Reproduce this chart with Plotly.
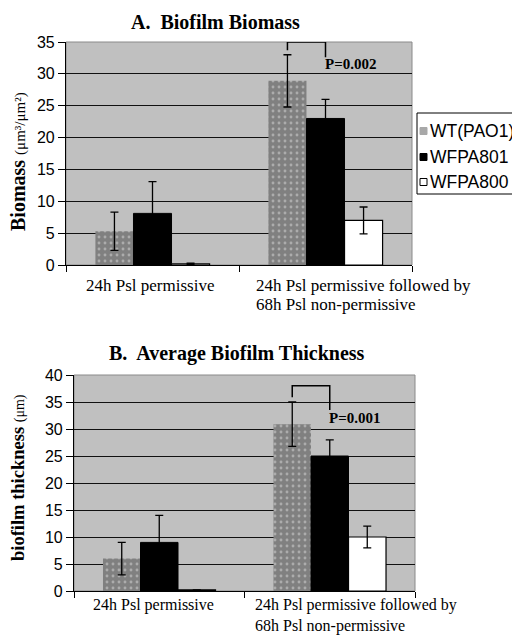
import plotly.graph_objects as go

# page body has an 8px margin: build the figure 8px smaller and map reference pixels
OFF = 8
W, H = 520 - OFF, 636 - OFF

categories = ["24h Psl permissive", "24h Psl permissive followed by<br>68h Psl non-permissive"]
series_names = ["WT(PAO1)", "WFPA801", "WFPA800"]

# Panel A: Biofilm biomass
biomass_wt = [5.3, 28.9]
biomass_wt_err = [3.0, 4.1]
biomass_801 = [8.1, 23.0]
biomass_801_err = [5.0, 3.0]
biomass_800 = [0.2, 7.0]
biomass_800_err = [0.1, 2.1]

# Panel B: Average thickness
thick_wt = [6.0, 30.9]
thick_wt_err = [3.0, 4.1]
thick_801 = [9.0, 25.0]
thick_801_err = [5.0, 3.0]
thick_800 = [0.2, 10.0]
thick_800_err = [0.0, 2.0]

# significance brackets: [top, left leg bottom, right leg bottom, label y]
bracket_a = [35.0, 33.7, 32.6, 31.6]
bracket_b = [38.0, 35.9, 33.5, 32.0]
p_a = "P=0.002"
p_b = "P=0.001"

BARGAP = 0.34
bar_w = (1 - BARGAP) / 3

def px(x):
    return (x - OFF) / W

def py(y):
    return 1 - (y - OFF) / H

fig = go.Figure()

wt_style = dict(color="#808080", line=dict(width=0),
                pattern=dict(shape=".", fillmode="overlay", fgcolor="#d8d8d8",
                             size=6, solidity=0.18))
s801 = dict(color="#000000", line=dict(color="#000000", width=1))
s800 = dict(color="#ffffff", line=dict(color="#000000", width=1.2))

def add_panel(xa, ya, vals, errs):
    for name, v, e, st in zip(series_names, vals, errs, [wt_style, s801, s800]):
        fig.add_trace(go.Bar(
            x=categories, y=v, name=name, marker=st, xaxis=xa, yaxis=ya,
            showlegend=False,
            error_y=dict(type="data", array=e, visible=True, color="#000000",
                         thickness=1.3, width=4),
        ))

add_panel("x", "y", [biomass_wt, biomass_801, biomass_800],
          [biomass_wt_err, biomass_801_err, biomass_800_err])
add_panel("x2", "y2", [thick_wt, thick_801, thick_800],
          [thick_wt_err, thick_801_err, thick_800_err])

tickfont = dict(family="Liberation Sans, Arial", size=16, color="#000")
catfont_a = dict(family="Liberation Serif, Times New Roman", size=17, color="#000")
catfont_b = dict(family="Liberation Serif, Times New Roman", size=16, color="#000")

xcommon = dict(type="category", showline=True, linecolor="#000", linewidth=1.2,
               ticks="outside", tickson="boundaries", ticklen=6, tickcolor="#000",
               showticklabels=False, showgrid=False, fixedrange=True,
               automargin=False, range=[-0.5, 1.5], autorange=False)
ycommon = dict(showline=True, linecolor="#000", linewidth=1.2, ticks="outside",
               ticklen=7, tickcolor="#000", tickfont=tickfont, dtick=5,
               showgrid=True, gridcolor="#111", gridwidth=1.2, zeroline=False,
               automargin=False)

fig.update_layout(
    width=W, height=H,
    margin=dict(l=0, r=0, t=0, b=0, autoexpand=False),
    paper_bgcolor="white",
    plot_bgcolor="#c0c0c0",
    barmode="group", bargap=BARGAP, bargroupgap=0,
    showlegend=False,
    xaxis=dict(domain=[px(66), px(412)], anchor="y", **xcommon),
    yaxis=dict(domain=[py(265), py(42)], anchor="x", range=[0, 35], **ycommon),
    xaxis2=dict(domain=[px(74), px(415)], anchor="y2", **xcommon),
    yaxis2=dict(domain=[py(591), py(375)], anchor="x2", range=[0, 40], **ycommon),
)

# plot area borders
for xr, yr in [("x", "y"), ("x2", "y2")]:
    fig.add_shape(type="rect", xref=f"{xr} domain", yref=f"{yr} domain",
                  x0=0, x1=1, y0=0, y1=1, line=dict(color="#8a8a8a", width=1),
                  layer="below")

# category labels (second label left-aligned, as in the reference)
def cat_labels(xr, y_lines, shift0, shift1, font):
    fig.add_annotation(x=0, y=py(y_lines[0]), xref=xr, yref="paper",
                       text=categories[0], showarrow=False, xanchor="center",
                       yanchor="middle", xshift=shift0, font=font)
    for line, yy in zip(categories[1].split("<br>"), y_lines):
        fig.add_annotation(x=1, y=py(yy), xref=xr, yref="paper",
                           text=line, showarrow=False, xanchor="left",
                           yanchor="middle", xshift=shift1, font=font)

cat_labels("x", [285, 305], -3, -72, catfont_a)
cat_labels("x2", [605, 626], -6, -77, catfont_b)

# significance brackets
def bracket(xr, yr, br, label):
    xl = 1 - bar_w
    xrgt = 1
    fig.add_shape(type="path", xref=xr, yref=yr,
                  path=f"M {xl},{br[1]} L {xl},{br[0]} L {xrgt},{br[0]} L {xrgt},{br[2]}",
                  line=dict(color="#000", width=1.5))
    fig.add_annotation(x=xrgt, y=br[3], xref=xr, yref=yr, text=f"<b>{label}</b>",
                       showarrow=False, xanchor="left", yanchor="middle", xshift=-3,
                       font=dict(family="Liberation Serif, Times New Roman", size=15, color="#000"))

bracket("x", "y", bracket_a, p_a)
bracket("x2", "y2", bracket_b, p_b)

# titles
titlefont = dict(family="Liberation Serif, Times New Roman", size=20, color="#000")
fig.add_annotation(x=px(215), y=py(22), xref="paper", yref="paper", xanchor="center",
                   yanchor="middle", text="<b>A.  Biofilm Biomass</b>", showarrow=False,
                   font=titlefont)
fig.add_annotation(x=px(237), y=py(353), xref="paper", yref="paper", xanchor="center",
                   yanchor="middle", text="<b>B.  Average Biofilm Thickness</b>",
                   showarrow=False, font=titlefont)

# y-axis titles
fig.add_annotation(x=px(18), y=py(162), xref="paper", yref="paper", textangle=-90,
                   xanchor="center", yanchor="middle",
                   text="<b>Biomass</b> <span style='font-size:15px'>(\u03bcm\u00b3/\u03bcm\u00b2)</span>",
                   showarrow=False,
                   font=dict(family="Liberation Serif, Times New Roman", size=20, color="#000"))
fig.add_annotation(x=px(18), y=py(478), xref="paper", yref="paper", textangle=-90,
                   xanchor="center", yanchor="middle",
                   text="<b>biofilm thickness</b> <span style='font-size:14px'>(\u03bcm)</span>",
                   showarrow=False,
                   font=dict(family="Liberation Serif, Times New Roman", size=18.5, color="#000"))

# manual legend
fig.add_shape(type="rect", xref="paper", yref="paper",
              x0=px(417), x1=px(521), y0=py(194), y1=py(113),
              line=dict(color="#000", width=1), fillcolor="white")
leg_y = [131, 157, 182]
swatch_fill = ["#a8a8a8", "#000000", "#ffffff"]
legfont = dict(family="Liberation Sans, Arial", size=17.5, color="#000")
for name, yy, fc in zip(series_names, leg_y, swatch_fill):
    fig.add_shape(type="rect", xref="paper", yref="paper",
                  x0=px(420), x1=px(427), y0=py(yy + 3.5), y1=py(yy - 3.5),
                  line=dict(color="#000" if fc != "#a8a8a8" else "#a8a8a8", width=1),
                  fillcolor=fc)
    fig.add_annotation(x=px(428), y=py(yy), xref="paper", yref="paper", text=name,
                       showarrow=False, xanchor="left", yanchor="middle", font=legfont)

fig.write_html("out.html")
